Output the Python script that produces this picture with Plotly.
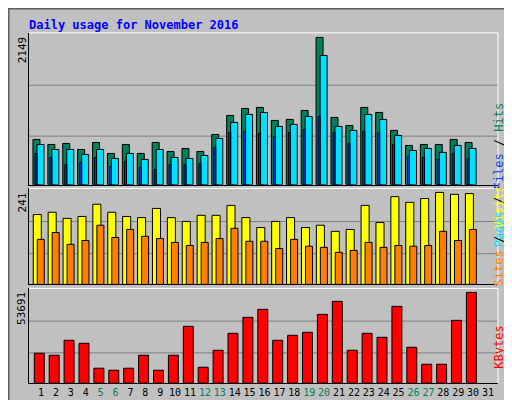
import plotly.graph_objects as go

days = list(range(1, 32))
hits = [661, 588, 603, 515, 617, 457, 588, 457, 617, 486, 530, 486, 734, 1011, 1113, 1128, 938, 953, 1084, 2149, 982, 865, 1128, 1055, 793, 574, 588, 588, 661, 617]
pages = [588, 515, 515, 442, 515, 384, 457, 370, 515, 399, 384, 428, 676, 909, 1026, 1055, 851, 880, 997, 1886, 851, 793, 1026, 953, 720, 501, 530, 472, 574, 530]
files = [457, 399, 297, 326, 399, 267, 340, 253, 224, 297, 297, 311, 545, 763, 778, 749, 705, 763, 807, 997, 763, 603, 778, 763, 588, 413, 399, 370, 457, 384]
visits = [183, 189, 173, 178, 210, 189, 178, 175, 199, 175, 165, 181, 181, 207, 175, 149, 165, 175, 149, 155, 139, 144, 207, 162, 230, 215, 225, 241, 236, 238]
sites = [118, 136, 105, 115, 155, 123, 144, 126, 120, 110, 102, 110, 120, 147, 113, 113, 94, 118, 100, 97, 84, 89, 110, 97, 102, 100, 102, 139, 115, 144]
kbytes = [17700, 16520, 25370, 23600, 8850, 7670, 8850, 16520, 7670, 16520, 33630, 9440, 19470, 29500, 38940, 43660, 25370, 28320, 30090, 40710, 48380, 19470, 29500, 27140, 45430, 21240, 11210, 11210, 37170, 53691]
weekend = [5, 6, 12, 13, 19, 20, 26, 27]
max_labels = ["2149", "241", "53691"]

GREEN, BLUE, CYAN = "#00805C", "#0040FF", "#00E0FF"
YEL, ORA, RED = "#FFFF00", "#FF8000", "#FF0000"
MONO = "DejaVu Sans Mono"
n = len(hits)
x = days[:n]

def bar(y, color, off, w, ax):
    return go.Bar(x=x, y=y, offset=off, width=w, marker=dict(color=color, line=dict(color="black", width=1)),
                  xaxis="x" + ax, yaxis="y" + ax, showlegend=False, hoverinfo="skip")

fig = go.Figure()
fig.add_trace(bar(hits, GREEN, -0.54, 0.47, ""))
fig.add_trace(bar(pages, CYAN, -0.27, 0.47, ""))
fig.add_trace(bar(files, BLUE, -0.40, 0.13, ""))
fig.add_trace(bar(visits, YEL, -0.52, 0.54, "2"))
fig.add_trace(bar(sites, ORA, -0.25, 0.47, "2"))
fig.add_trace(bar(kbytes, RED, -0.45, 0.67, "3"))

xr = [0.195, 31.67]
xd = [21/512, 490/512]
doms = [[0.558, 0.938], [0.309, 0.549], [0.062, 0.299]]
rng = [2216, 251.5, 56050]
ticktext = [f"<span style='color:{GREEN}'>{d}</span>" if d in weekend else str(d) for d in days]

layout = dict(width=512, height=400, margin=dict(l=0, r=0, t=0, b=0),
              paper_bgcolor="#C0C0C0", plot_bgcolor="#C0C0C0", barmode="overlay",
              font=dict(family=MONO, size=11, color="black"))
for i, ax in enumerate(["", "2", "3"]):
    layout["xaxis" + ax] = dict(domain=xd, range=xr, showgrid=False, zeroline=False,
                                showline=True, linecolor="black", linewidth=1,
                                anchor="y" + ax, fixedrange=True, tickangle=0,
                                tickmode="array", tickvals=days if ax == "3" else [],
                                ticktext=ticktext if ax == "3" else None, ticks="",
                                tickfont=dict(family=MONO, size=10))
    layout["yaxis" + ax] = dict(domain=doms[i], range=[0, rng[i]], showgrid=False, zeroline=False,
                                showline=True, linecolor="black", linewidth=1,
                                showticklabels=False, anchor="x" + ax)
fig.update_layout(**layout)

shapes = []
for i, ax in enumerate(["", "2", "3"]):
    for f in (0.32, 0.655):
        shapes.append(dict(type="line", xref="x" + ax + " domain", yref="y" + ax + " domain",
                           x0=0, x1=1, y0=f, y1=f, line=dict(color="#808080", width=1), layer="below"))
    shapes.append(dict(type="line", xref="x" + ax + " domain", yref="y" + ax + " domain",
                       x0=0, x1=1, y0=1, y1=1, line=dict(color="white", width=1)))
    shapes.append(dict(type="line", xref="x" + ax + " domain", yref="y" + ax + " domain",
                       x0=1, x1=1, y0=0, y1=1, line=dict(color="white", width=1)))
shapes.append(dict(type="rect", xref="paper", yref="paper", x0=0, x1=1, y0=0, y1=1,
                   line=dict(color="#606060", width=3)))
fig.update_layout(shapes=shapes)

ann = [dict(text="<b>Daily usage for November 2016</b>", x=19/512, y=1-8/400, xref="paper", yref="paper",
            xanchor="left", yanchor="top", showarrow=False, font=dict(family=MONO, size=12, color="#0000FF"))]
for i, lab in enumerate(max_labels):
    top = doms[i][1]
    ann.append(dict(text=lab, textangle=-90, x=14/512, y=top - 2/400, xref="paper", yref="paper",
                    xanchor="center", yanchor="top", showarrow=False, font=dict(family=MONO, size=11)))
ann.append(dict(text=f"<span style='color:{CYAN}'>Pages</span> / <span style='color:{BLUE}'>Files</span> / <span style='color:{GREEN}'>Hits</span>",
                textangle=-90, x=500/512, y=sum(doms[0])/2 + 0.02, xref="paper", yref="paper",
                showarrow=False, font=dict(family=MONO, size=12, color="black")))
ann.append(dict(text=f"<span style='color:{ORA}'>Sites</span> / <span style='color:{YEL}'>Visits</span>",
                textangle=-90, x=500/512, y=sum(doms[1])/2, xref="paper", yref="paper",
                showarrow=False, font=dict(family=MONO, size=12, color="black")))
ann.append(dict(text=f"<span style='color:{RED}'>KBytes</span>", textangle=-90, x=500/512, y=doms[2][0] + 0.03,
                xref="paper", yref="paper", yanchor="bottom", showarrow=False, font=dict(family=MONO, size=12)))
fig.update_layout(annotations=ann)

fig.write_html("out.html")
